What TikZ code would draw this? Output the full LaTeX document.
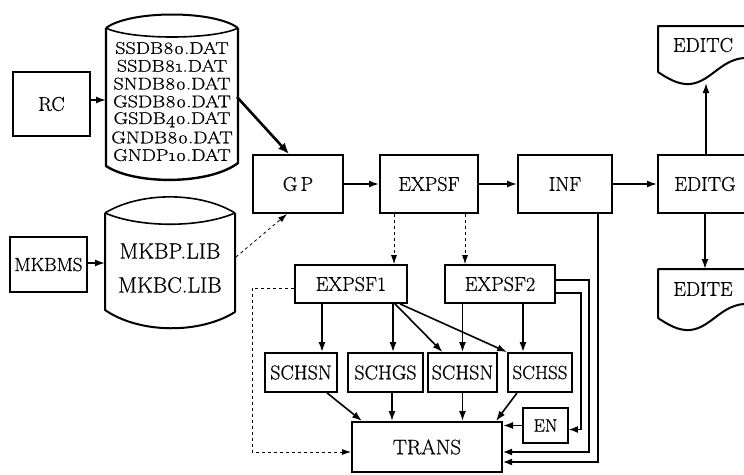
\documentclass[tikz,border=0pt]{standalone}
\usepackage{fontspec}
\newfontfamily\heavy{Latin Modern Roman}[FakeBold=0.6]
\newfontfamily\heavyosf{Latin Modern Roman}[FakeBold=0.6, Numbers=OldStyle]
\usetikzlibrary{arrows.meta}
\begin{document}
\begin{tikzpicture}[x=1pt,y=-1pt,
  box/.style={draw, line width=2pt, inner sep=0pt, font=\heavy\fontsize{20}{22}\selectfont},
  sbox/.style={draw, line width=1.8pt, inner sep=0pt, font=\heavy\fontsize{20}{22}\selectfont},
  lbl/.style={inner sep=0pt, font=\heavy\fontsize{20}{22}\selectfont},
  cyltxt/.style={inner sep=0pt, font=\heavyosf\fontsize{17}{17}\selectfont},
  conn/.style={line width=1.6pt, -{Latex[length=10pt,width=7pt]}},
  thickconn/.style={line width=2.6pt, -{Latex[length=11pt,width=9pt]}},
  thinconn/.style={line width=0.8pt, dashed, -{Latex[length=9pt,width=6pt]}},
  route/.style={line width=1.3pt, -{Latex[length=9pt,width=7pt]}},
  cyl/.style={line width=2pt, line join=round}
]
\clip (0,0) rectangle (744,474);
\fill[white] (0,0) rectangle (744,474);

% data cylinder
\draw[cyl, line width=2.4pt] (106,28) -- (106,166) .. controls (135,185) and (209,185) .. (238,163) -- (238,28);
\draw[cyl] (106,28) .. controls (130,10) and (214,10) .. (238,28);
\draw[cyl, line width=1.6pt] (106,28) .. controls (130,40) and (214,40) .. (238,28);
\node[cyltxt] (d1) at (172,48) {\scalebox{1.18}[1]{SSDB80.DAT}};
\node[cyltxt] (d2) at (172,65.8) {\scalebox{1.18}[1]{SSDB81.DAT}};
\node[cyltxt] (d3) at (172,83.6) {\scalebox{1.18}[1]{SNDB80.DAT}};
\node[cyltxt] (d4) at (172,101.4) {\scalebox{1.18}[1]{GSDB80.DAT}};
\node[cyltxt] (d5) at (172,119.6) {\scalebox{1.18}[1]{GSDB40.DAT}};
\node[cyltxt] (d6) at (172,137.4) {\scalebox{1.18}[1]{GNDB80.DAT}};
\node[cyltxt] (d7) at (172,155) {\scalebox{1.18}[1]{GNDP10.DAT}};

% library cylinder
\draw[cyl] (105,213) -- (105,310) .. controls (140,334) and (200,334) .. (235,312) -- (235,213);
\draw[cyl, line width=1.6pt] (105,213) .. controls (140,191.5) and (200,191.5) .. (235,213);
\draw[cyl, line width=1.6pt] (105,213) .. controls (140,228) and (200,228) .. (235,213);
\node[lbl, font=\heavy\fontsize{22}{24}\selectfont] (mkbp) at (170,251) {MKBP.LIB};
\node[lbl, font=\heavy\fontsize{22}{24}\selectfont] (mkbc) at (170,285) {MKBC.LIB};

% documents
\draw[cyl] (750,26) -- (658,26) -- (658,72) .. controls (667,78) and (678,85) .. (690,84)
  .. controls (712,82) and (722,56) .. (750,58);
\node[lbl] (editc) at (703,45) {EDITC};
\draw[cyl] (750,269) -- (658,269) -- (658,318) .. controls (667,324) and (678,331) .. (690,330)
  .. controls (712,328) and (722,302) .. (750,304);
\node[lbl] (edite) at (703,289) {EDITE};
\coordinate (editcb) at (706,83);
\coordinate (editet) at (705,269);

% boxes
\node[box, minimum width=77pt, minimum height=64pt] (rc) at (51.5,104) {RC};
\node[box, minimum width=77pt, minimum height=55pt, font=\heavy\fontsize{19}{22}\selectfont] (mkbms) at (48.5,264.5) {MKBMS};
\node[box, minimum width=90pt, minimum height=58pt] (gp) at (298,184) {G\,P};
\node[box, minimum width=98pt, minimum height=58pt] (expsf) at (429,184) {EXPSF};
\node[box, minimum width=94pt, minimum height=58pt] (inf) at (565,184) {INF};
\node[box, minimum width=94pt, minimum height=58pt] (editg) at (705,184) {EDITG};
\node[box, minimum width=112pt, minimum height=38pt, line width=1.8pt] (expsf1) at (351,284) {EXPSF1};
\node[box, minimum width=110pt, minimum height=38pt, line width=1.8pt] (expsf2) at (500,284) {EXPSF2};
\node[sbox, minimum width=72pt, minimum height=39pt] (schsn1) at (301,372.5) {SCHSN};
\node[sbox, minimum width=75pt, minimum height=39pt] (schgs) at (385.5,372.5) {SCHGS};
\node[sbox, minimum width=69pt, minimum height=39pt] (schsn2) at (462.5,372.5) {SCHSN};
\node[sbox, minimum width=64pt, minimum height=39pt, font=\heavy\fontsize{19}{22}\selectfont] (schss) at (540,372.5) {SCHSS};
\node[sbox, minimum width=45pt, minimum height=35pt, font=\heavy\fontsize{18}{22}\selectfont] (en) at (545.5,425.5) {EN};
\node[box, minimum width=150pt, minimum height=50pt, font=\heavy\fontsize{21}{22}\selectfont] (trans) at (427,447) {TRANS};

% top connectors
\coordinate (cylAw) at (106,100);
\coordinate (cylAe) at (237,97);
\coordinate (cylBw) at (105,263);
\coordinate (cylBe) at (236,257);
\draw[conn] (rc.east |- cylAw) -- (cylAw);
\draw[conn] (mkbms.east |- cylBw) -- (cylBw);
\draw[thickconn] (cylAe) -- ([xshift=37pt]gp.north west);
\draw[thinconn] (cylBe) -- ([xshift=35pt]gp.south west);
\draw[conn] (gp) -- (expsf);
\draw[conn] (expsf) -- (inf);
\draw[conn] (inf) -- (editg);
\draw[conn] (editg.north -| editcb) -- (editcb);
\draw[conn] (editg.south -| editet) -- (editet);

% EXPSF to sub-programs
\draw[thinconn] ([xshift=-35pt]expsf.south) -- ([xshift=-35pt]expsf.south |- expsf1.north);
\draw[thinconn] ([xshift=36pt]expsf.south) -- ([xshift=36pt]expsf.south |- expsf2.north);

\draw[conn] ([xshift=21pt]schsn1.north |- expsf1.south) -- ([xshift=21pt]schsn1.north);
\draw[conn] ([xshift=7.5pt]schgs.north |- expsf1.south) -- ([xshift=7.5pt]schgs.north);
\draw[conn] ([xshift=44pt]expsf1.south) -- ([xshift=-20pt]schsn2.north);
\draw[conn] ([xshift=49pt]expsf1.south) -- (schss.north west);
\draw[conn] (schsn2.north |- expsf2.south) -- (schsn2.north);
\draw[conn] ([xshift=-17pt]schss.north |- expsf2.south) -- ([xshift=-17pt]schss.north);

% to TRANS
\draw[conn] ([xshift=26pt]schsn1.south) -- ([xshift=11pt]trans.north west);
\draw[conn] ([xshift=6.5pt]schgs.south) -- ([xshift=6.5pt]schgs.south |- trans.north);
\draw[conn] (schsn2.south) -- (schsn2.south |- trans.north);
\draw[conn] ([xshift=-23pt]schss.south) -- ([xshift=-7pt]trans.north east);
\draw[conn] (en.west) -- (en.west -| trans.east);

% routed lines
\draw[thinconn] ([yshift=-4pt]expsf1.west) -- ++(-42,0) |- ([yshift=-5pt]trans.west);
\draw[route] ([yshift=4pt]expsf2.east) -- ++(33,0) |- ([yshift=-5pt]trans.east);
\draw[route] ([yshift=-9pt]expsf2.east) -- ++(25,0) |- ([yshift=-4pt]en.east);
\draw[route] ([xshift=33pt]inf.south) |- ([yshift=-15pt]trans.east);
\end{tikzpicture}
\end{document}
